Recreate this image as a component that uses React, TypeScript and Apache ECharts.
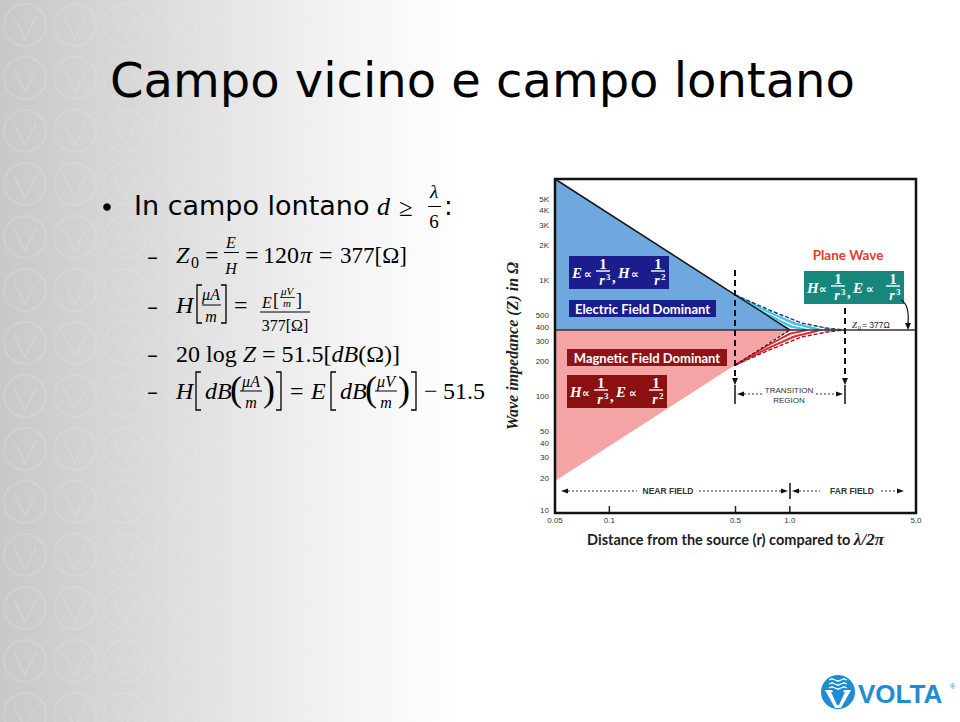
import React, { useEffect, useRef } from 'react';
import * as echarts from 'echarts';

// ---------------- data ----------------
const xRange = [0.05, 5];
const yRange = [10, 7540];
const xTickValues = [0.05, 0.1, 0.5, 1.0, 5.0];
const xTickLabels = ['0.05', '0.1', '0.5', '1.0', '5.0'];
const xTickMarks = [0.1, 0.5, 1.0];
const yTickValues = [10, 20, 30, 40, 50, 100, 200, 300, 400, 500, 1000, 2000, 3000, 4000, 5000];
const yTickLabels = ['10', '20', '30', '40', '50', '100', '200', '300', '400', '500', '1K', '2K', '3K', '4K', '5K'];

const planeWaveZ = 377;
const eNearLine = [[0.05, 7540], [0.5, 754], [1.0, 377]];
const hNearLine = [[0.05, 18.9], [0.5, 189], [1.0, 377]];
const eTransitionEdge = [[0.5, 754], [0.79, 550], [1.16, 433], [1.6, 392], [2.0, 377]];
const hTransitionEdge = [[0.5, 189], [0.79, 258], [1.16, 328], [1.6, 362], [2.0, 377]];
const eCyanStripes = [
  [[0.5, 754], [0.75, 515], [1.0, 405], [1.25, 377]],
  [[0.5, 754], [0.77, 535], [1.05, 430], [1.45, 380]],
];
const eWhiteStripes = [
  [[0.5, 754], [0.74, 510], [1.0, 392], [1.15, 377]],
  [[0.5, 754], [0.76, 525], [1.03, 418], [1.35, 377]],
  [[0.5, 754], [0.78, 545], [1.1, 440], [1.55, 385]],
];
const hRedStripes = [
  [[0.5, 189], [0.75, 276], [1.0, 351], [1.25, 377]],
  [[0.5, 189], [0.77, 266], [1.05, 331], [1.45, 374]],
];
const hWhiteStripes = [
  [[0.5, 189], [0.74, 279], [1.0, 363], [1.15, 377]],
  [[0.5, 189], [0.76, 271], [1.03, 340], [1.35, 377]],
  [[0.5, 189], [0.78, 261], [1.1, 323], [1.55, 369]],
];

// ---------------- styles ----------------
const BLUE_FILL = '#6ea8df';
const PINK_FILL = '#f4a4a4';
const CYAN = '#3cc6ec';
const RED = '#e3262b';
const SERIF = '"Liberation Serif"';
const SANS = '"DejaVu Sans"';
const mi = (s: number) => `italic ${s}px ${SERIF}`;
const mn = (s: number) => `${s}px ${SERIF}`;

const T = (text: string, x: number, y: number, font: string, fill = '#000', align = 'left', z = 50) => ({
  type: 'text', z, silent: true,
  style: { text, x, y, font, fill, textAlign: align, align, textVerticalAlign: 'middle', verticalAlign: 'middle' },
});
const L = (x1: number, y1: number, x2: number, y2: number, stroke = '#000', w = 1, dash?: number[]) => ({
  type: 'line', z: 50, silent: true, shape: { x1, y1, x2, y2 }, style: { stroke, lineWidth: w, lineDash: dash },
});
const P = (points: number[][], stroke = '#000', w = 1.3, z = 50, opacity = 1) => ({
  type: 'polyline', z, silent: true, shape: { points }, style: { stroke, lineWidth: w, fill: 'none', opacity },
});
const G = (points: number[][], fill = '#000') => ({
  type: 'polygon', z: 50, silent: true, shape: { points }, style: { fill },
});
const R = (x: number, y: number, w: number, h: number, fill: string) => ({
  type: 'rect', z: 50, silent: true, shape: { x, y, width: w, height: h }, style: { fill },
});

const formulaBox = (x: number, y: number, fill: string, v1: string, e1: string, v2: string, e2: string) => {
  const w = '#fff';
  const fv = `italic bold 15px ${SERIF}`;
  const fp = `bold 11px ${SANS}`;
  const f1 = `bold 15px ${SERIF}`;
  const fr = `italic bold 14px ${SERIF}`;
  const fe = `bold 9px ${SERIF}`;
  return [
    R(x, y, 100, 33, fill),
    T(v1, x + 3, y + 17, fv, w),
    T('∝', x + 15, y + 18, fp, w),
    T('1', x + 34, y + 7.5, f1, w, 'center'),
    L(x + 27, y + 15, x + 41, y + 15, w, 1.4),
    T('r', x + 33, y + 24, fr, w, 'center'),
    T(e1, x + 37, y + 20.5, fe, w),
    T(',', x + 43, y + 21, `bold 15px ${SERIF}`, w),
    T(v2, x + 49, y + 17, fv, w),
    T('∝', x + 62, y + 18, fp, w),
    T('1', x + 89, y + 7.5, f1, w, 'center'),
    L(x + 82, y + 15, x + 96, y + 15, w, 1.4),
    T('r', x + 88, y + 24, fr, w, 'center'),
    T(e2, x + 92, y + 20.5, fe, w),
  ];
};

const bracketL = (x: number, y1: number, y2: number) => P([[x + 5, y1], [x, y1], [x, y2], [x + 5, y2]], '#000', 1.3);
const bracketR = (x: number, y1: number, y2: number) => P([[x - 5, y1], [x, y1], [x, y2], [x - 5, y2]], '#000', 1.3);

// ---------------- series renderers ----------------
function renderRegions(_params: any, api: any) {
  const c = (p: number[]) => api.coord(p);
  const line = (pts: number[][], stroke: string, w: number, dash?: number[]) => ({
    type: 'polyline', shape: { points: pts.map(c) }, style: { stroke, lineWidth: w, fill: 'none', lineDash: dash },
  });
  const bluePoly = [...eNearLine.slice(0, 2), ...eTransitionEdge.slice(1), [xRange[0], planeWaveZ]].map(c);
  const redPoly = [...hNearLine.slice(0, 2), ...hTransitionEdge.slice(1), [xRange[0], planeWaveZ]].map(c);
  return {
    type: 'group',
    children: [
      { type: 'polygon', shape: { points: bluePoly }, style: { fill: BLUE_FILL } },
      { type: 'polygon', shape: { points: redPoly }, style: { fill: PINK_FILL } },
      ...eWhiteStripes.map((s) => line(s, '#ffffff', 1.6)),
      ...eCyanStripes.map((s) => line(s, CYAN, 1.8)),
      ...hWhiteStripes.map((s) => line(s, '#ffffff', 1.6)),
      ...hRedStripes.map((s) => line(s, RED, 1.8)),
      line(eTransitionEdge, '#27336e', 1.4, [4, 2]),
      line(hTransitionEdge, '#a3161a', 1.4, [4, 2]),
      line(eNearLine, '#1a1a1a', 1.6),
      line(hNearLine.slice(1), '#222222', 1.3, [3, 2]),
      line([[xRange[0], planeWaveZ], [xRange[1], planeWaveZ]], '#333333', 1.6),
    ],
  };
}

function renderAxisText(_params: any, api: any) {
  const children: any[] = [];
  const font = '8px "Liberation Sans"';
  yTickValues.forEach((v, i) => {
    const [px, py] = api.coord([xRange[0], v]);
    children.push({
      type: 'text',
      style: { text: yTickLabels[i], x: px - 6, y: v === yRange[0] ? py - 3 : py, font, fill: '#333',
        textAlign: 'right', align: 'right', textVerticalAlign: 'middle', verticalAlign: 'middle' },
    });
  });
  xTickValues.forEach((v, i) => {
    const [px, py] = api.coord([v, yRange[0]]);
    children.push({
      type: 'text',
      style: { text: xTickLabels[i], x: px, y: py + 7, font, fill: '#333',
        textAlign: 'center', align: 'center', textVerticalAlign: 'middle', verticalAlign: 'middle' },
    });
  });
  xTickMarks.forEach((v) => {
    const [px, py] = api.coord([v, yRange[0]]);
    children.push({ type: 'line', shape: { x1: px, y1: py, x2: px, y2: py - 7 }, style: { stroke: '#222', lineWidth: 1.5 } });
  });
  return { type: 'group', children };
}

// ---------------- slide graphics ----------------
function slideGraphics() {
  const els: any[] = [];
  // background
  els.push({
    type: 'rect', z: -100, silent: true, shape: { x: 0, y: 0, width: 960, height: 722 },
    style: {
      fill: {
        type: 'linear', x: 0, y: 0, x2: 1, y2: 0,
        colorStops: [
          { offset: 0, color: '#c8c8c8' },
          { offset: 0.12, color: '#d6d6d6' },
          { offset: 0.26, color: '#e8e8e8' },
          { offset: 0.38, color: '#f6f6f6' },
          { offset: 0.48, color: '#ffffff' },
          { offset: 1, color: '#ffffff' },
        ],
      },
    },
  });
  // faint watermark pattern on the left
  for (let col = 0; col < 8; col++) {
    for (let row = 0; row < 14; row++) {
      const cx = 25 + col * 50;
      const cy = 25 + row * 53;
      const op = Math.max(0, 0.14 - col * 0.018);
      if (op <= 0) continue;
      els.push({ type: 'circle', z: -90, silent: true, shape: { cx, cy, r: 21 },
        style: { fill: 'none', stroke: '#ffffff', lineWidth: 2, opacity: op } });
      els.push(P([[cx - 11, cy - 8], [cx, cy + 14], [cx + 11, cy - 8]], '#ffffff', 2, -90, op));
    }
  }
  // title
  els.push(T('Campo vicino e campo lontano', 110, 80, `48px ${SANS}`, '#000'));
  // bullet line
  els.push({ type: 'circle', z: 50, silent: true, shape: { cx: 107, cy: 207, r: 3.8 }, style: { fill: '#000' } });
  els.push(T('In campo lontano', 134, 205.5, `27px ${SANS}`));
  els.push(T('d', 377, 206.5, mi(26)));
  els.push(T('≥', 399, 207, mn(25)));
  els.push(T('λ', 434, 191.5, mi(19), '#000', 'center'));
  els.push(L(428, 206.5, 441, 206.5, '#000', 1));
  els.push(T('6', 434, 221, mn(19), '#000', 'center'));
  els.push(T(':', 444, 205.5, `26px ${SANS}`));

  const dash = (y: number) => T('–', 147, y, `22px ${SANS}`);
  // line 2
  els.push(dash(256));
  els.push(T('Z', 176, 255, mi(24)));
  els.push(T('0', 191, 262, mn(16)));
  els.push(T('=', 205, 255, mn(24)));
  els.push(T('E', 231, 242, mi(16), '#000', 'center'));
  els.push(L(224, 252.5, 239, 252.5, '#000', 1));
  els.push(T('H', 231, 268, mi(16), '#000', 'center'));
  els.push(T('=', 245, 255, mn(24)));
  els.push(T('120', 263, 255, mn(24)));
  els.push(T('π', 300, 255, mi(24)));
  els.push(T('=', 319, 255, mn(24)));
  els.push(T('377[Ω]', 340, 255, mn(23)));
  // line 3
  els.push(dash(306));
  els.push(T('H', 176, 304.5, mi(24)));
  els.push(bracketL(197, 285, 323));
  els.push(T('μA', 211, 294, mi(16), '#000', 'center'));
  els.push(L(202, 305, 221, 305, '#000', 1));
  els.push(T('m', 211, 316, mi(16), '#000', 'center'));
  els.push(bracketR(226, 285, 323));
  els.push(T('=', 234, 304.5, mn(24)));
  els.push(T('E', 262, 302, mi(16)));
  els.push(T('[', 273, 300, mn(18)));
  els.push(T('μV', 287, 291, mi(11), '#000', 'center'));
  els.push(L(280, 297.5, 295, 297.5, '#000', 0.8));
  els.push(T('m', 287, 303, mi(11), '#000', 'center'));
  els.push(T(']', 296, 300, mn(18)));
  els.push(L(260, 312, 310, 312, '#000', 1));
  els.push(T('377[Ω]', 285, 325, mn(16), '#000', 'center'));
  // line 4 (single rich text)
  els.push(dash(354));
  els.push({
    type: 'text', z: 50, silent: true,
    style: {
      text: '{n|20 log }{i|Z}{n| = 51.5[}{i|dB}{n|(Ω)]}', x: 176, y: 353.5,
      textAlign: 'left', align: 'left', textVerticalAlign: 'middle', verticalAlign: 'middle',
      rich: {
        n: { font: mn(24), fill: '#000', color: '#000' },
        i: { font: mi(24), fill: '#000', color: '#000' },
      },
    },
  });
  // line 5
  els.push(dash(391));
  els.push(T('H', 176, 391, mi(24)));
  els.push(bracketL(196, 372, 410));
  els.push(T('dB', 205, 391, mi(24)));
  els.push(T('(', 230, 389, mn(36)));
  els.push(T('μA', 251, 381, mi(16), '#000', 'center'));
  els.push(L(240, 391, 262, 391, '#000', 1));
  els.push(T('m', 251, 402, mi(16), '#000', 'center'));
  els.push(T(')', 263, 389, mn(36)));
  els.push(bracketR(281, 372, 410));
  els.push(T('=', 290, 391, mn(24)));
  els.push(T('E', 311, 391, mi(24)));
  els.push(bracketL(331, 372, 410));
  els.push(T('dB', 340, 391, mi(24)));
  els.push(T('(', 365, 389, mn(36)));
  els.push(T('μV', 386, 381, mi(16), '#000', 'center'));
  els.push(L(375, 391, 397, 391, '#000', 1));
  els.push(T('m', 386, 402, mi(16), '#000', 'center'));
  els.push(T(')', 398, 389, mn(36)));
  els.push(bracketR(416, 372, 410));
  els.push(T('−', 424, 391, mn(24)));
  els.push(T('51.5', 443, 391, mn(24)));

  // ---- chart annotations ----
  const lab = `bold 13px Lato`;
  els.push(...formulaBox(569, 256, '#1b1d8c', 'E', '3', 'H', '2'));
  els.push(R(569, 300, 147, 17, '#1b1d8c'));
  els.push(T('Electric Field Dominant', 642.5, 308.5, lab, '#fff', 'center'));
  els.push(R(567, 349, 160, 17, '#8e1418'));
  els.push(T('Magnetic Field Dominant', 647, 357.5, lab, '#fff', 'center'));
  els.push(...formulaBox(567, 375, '#8b1010', 'H', '3', 'E', '2'));
  els.push(T('Plane Wave', 848, 255, `bold 13.5px Lato`, '#e8392e', 'center'));
  els.push(...formulaBox(804, 271, '#17877d', 'H', '3', 'E', '3'));
  // curved arrow to Z0 line
  els.push({ type: 'bezierCurve', z: 50, silent: true,
    shape: { x1: 901, y1: 300, cpx1: 907, cpy1: 303, cpx2: 909, cpy2: 312, x2: 908, y2: 324 },
    style: { stroke: '#111', lineWidth: 1.2, fill: 'none' } });
  els.push(G([[905, 323], [911, 323], [908, 330]], '#111'));
  // Z0 label
  els.push(T('Z', 852, 325, `italic 9px ${SERIF}`, '#222'));
  els.push(T('0', 858, 328, `6px ${SERIF}`, '#222'));
  els.push(T('= 377Ω', 862, 325, `8.5px "Liberation Sans"`, '#222'));
  // dashed vertical transition lines
  els.push(L(735, 270, 735, 380, '#111', 2, [6, 4]));
  els.push(L(845, 308, 845, 380, '#111', 2, [6, 4]));
  els.push(G([[732, 378], [738, 378], [735, 385]], '#111'));
  els.push(G([[842, 378], [848, 378], [845, 385]], '#111'));
  // transition region
  const small = `8px "Liberation Sans"`;
  els.push(L(735, 385, 735, 404, '#111', 1.5));
  els.push(L(845, 385, 845, 404, '#111', 1.5));
  els.push(G([[737, 394], [744, 391.5], [744, 396.5]], '#111'));
  els.push(L(744, 394, 762, 394, '#333', 1, [2, 2]));
  els.push(T('TRANSITION', 789, 390, small, '#333', 'center'));
  els.push(T('REGION', 789, 400, small, '#333', 'center'));
  els.push(L(816, 394, 836, 394, '#333', 1, [2, 2]));
  els.push(G([[843, 394], [836, 391.5], [836, 396.5]], '#111'));
  // near / far field
  const bold8 = `bold 8.5px "Liberation Sans"`;
  els.push(G([[561, 491], [568, 488.5], [568, 493.5]], '#111'));
  els.push(L(568, 491, 637, 491, '#333', 1, [2, 2]));
  els.push(T('NEAR FIELD', 668, 491, bold8, '#333', 'center'));
  els.push(L(699, 491, 781, 491, '#333', 1, [2, 2]));
  els.push(G([[788, 491], [781, 488.5], [781, 493.5]], '#111'));
  els.push(L(790, 483, 790, 499, '#111', 1.5));
  els.push(G([[792, 491], [799, 488.5], [799, 493.5]], '#111'));
  els.push(L(799, 491, 820, 491, '#333', 1, [2, 2]));
  els.push(T('FAR FIELD', 852, 491, bold8, '#333', 'center'));
  els.push(L(881, 491, 897, 491, '#333', 1, [2, 2]));
  els.push(G([[904, 491], [897, 488.5], [897, 493.5]], '#111'));
  // frame
  els.push({ type: 'rect', z: 100, silent: true, shape: { x: 555, y: 179, width: 361, height: 334 },
    style: { fill: 'none', stroke: '#111', lineWidth: 2.5 } });

  // ---- logo ----
  const lb = '#1e8bd3';
  els.push({ type: 'circle', z: 50, silent: true, shape: { cx: 838, cy: 692, r: 17 }, style: { fill: lb } });
  [680, 684, 688].forEach((y) => {
    els.push(P([[829, y], [832, y - 1.2], [835, y], [838, y + 1.2], [841, y], [844, y - 1.2], [847, y]], '#fff', 1.3));
  });
  els.push(G([[825, 690], [832, 690], [838, 702], [844, 690], [851, 690], [841, 708], [835, 708]], '#fff'));
  els.push(G([[831, 692], [834, 692], [838, 700], [842, 692], [845, 692], [839, 705], [837, 705]], lb));
  els.push(T('VOLTA', 858, 694, `bold 26px "Liberation Sans"`, lb));
  els.push(T('®', 950, 686, `7px "Liberation Sans"`, lb));
  return els;
}

export default function App() {
  const ref = useRef<HTMLDivElement>(null);
  useEffect(() => {
    if (!ref.current) return;
    const chart = echarts.init(ref.current, undefined, { renderer: 'svg' });
    const option: any = {
      animation: false,
      backgroundColor: '#ffffff',
      grid: { left: 555, top: 179, right: 44, bottom: 209, show: false },
      xAxis: {
        type: 'log', logBase: 10, min: xRange[0], max: xRange[1],
        axisLine: { show: false }, axisTick: { show: false }, axisLabel: { show: false }, splitLine: { show: false },
        name: '{a|Distance from the source (r) compared to }{b|λ/2π}',
        nameLocation: 'middle', nameGap: 18,
        nameTextStyle: {
          rich: {
            a: { fontFamily: 'Lato', fontWeight: 'bold', fontSize: 14.5, color: '#222' },
            b: { fontFamily: 'Liberation Serif', fontStyle: 'italic', fontWeight: 'bold', fontSize: 17, color: '#222' },
          },
        },
      },
      yAxis: {
        type: 'log', logBase: 10, min: yRange[0], max: yRange[1],
        axisLine: { show: false }, axisTick: { show: false }, axisLabel: { show: false }, splitLine: { show: false },
        name: 'Wave impedance (Z) in Ω',
        nameLocation: 'middle', nameGap: 35,
        nameTextStyle: { fontFamily: 'Liberation Serif', fontStyle: 'italic', fontWeight: 'bold', fontSize: 16, color: '#222' },
      },
      series: [
        { type: 'custom', name: 'regions', renderItem: renderRegions, data: [[xRange[0], yRange[0]]], silent: true, z: 2 },
        { type: 'custom', name: 'axisText', renderItem: renderAxisText, data: [[xRange[0], yRange[0]]], silent: true, z: 3 },
      ],
      graphic: slideGraphics(),
    };
    chart.setOption(option);
    return () => chart.dispose();
  }, []);
  return <div ref={ref} style={{ position: 'fixed', left: 0, top: 0, width: 960, height: 722 }} />;
}
